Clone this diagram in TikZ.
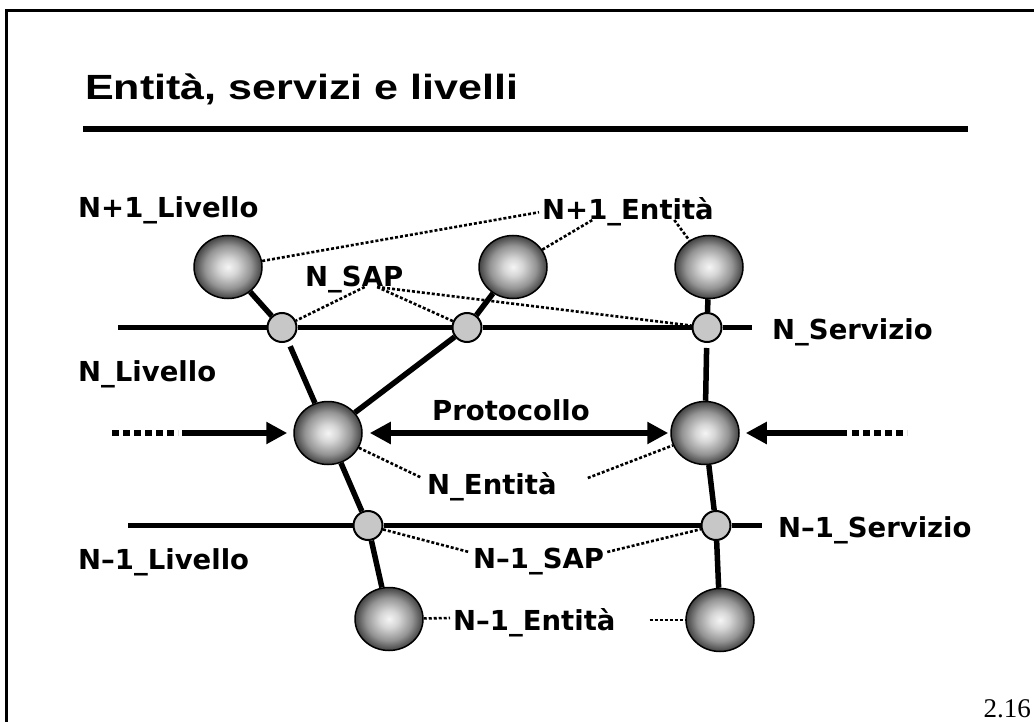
\documentclass[tikz,border=0pt]{standalone}
\usepackage{fontspec}
\setmainfont{Liberation Serif}
\newfontfamily\titlefont[FakeStretch=1.23]{Liberation Sans}
\newfontfamily\lblfont[Ligatures=TeX]{DejaVu Sans}
\usetikzlibrary{arrows.meta,shapes.geometric,calc}

% soft grey orb for the entities
\pgfdeclareradialshading{orb}{\pgfpoint{0bp}{0bp}}{%
  color(0bp)=(white!96!black); color(7bp)=(white!84!black);
  color(17bp)=(black!42); color(25bp)=(black!74); color(50bp)=(black!74)}

\begin{document}
\begin{tikzpicture}[x=1pt,y=-1pt,>={Triangle[length=21pt,width=21pt]},
    entity/.style={ellipse,draw=black,line width=1.5pt,minimum width=68pt,minimum height=63pt,
      inner sep=0pt,shading=orb},
    sap/.style={circle,draw=black,line width=2pt,fill=black!22,minimum size=29pt,inner sep=0pt},
    lbl/.style={font=\lblfont\bfseries\fontsize{27.5}{30}\selectfont,inner sep=3pt,anchor=base west},
    link/.style={line width=5.5pt},
    hint/.style={line width=2.6pt,dash pattern=on 3pt off 2pt},
    flow/.style={line width=6pt,->,shorten >=6pt},
    fade/.style={line width=6pt,dash pattern=on 7pt off 4pt}]
  \useasboundingbox (0,0) rectangle (1034,722);

  % slide frame and heading
  \draw[line width=3pt] (6.5,722) -- (6.5,10.5) -- (1034,10.5);
  \node[anchor=base west,inner sep=0pt,font=\titlefont\bfseries\fontsize{35}{40}\selectfont]
    at (85,100) (title) {Entità, servizi e livelli};
  \draw[line width=5.5pt] (83,129) -- (968,129);
  \node[anchor=base east,inner sep=0pt,font=\fontsize{27}{30}\selectfont] at (1031,717) (pg) {2.16};

  % entities
  \node[entity] at (228,267) (a1) {};
  \node[entity] at (513,267) (a2) {};
  \node[entity] at (709,267) (a3) {};
  \node[entity] at (328,433) (b1) {};
  \node[entity] at (705,433) (b2) {};
  \node[entity] at (389,619) (c1) {};
  \node[entity] at (720,620) (c2) {};

  % access points
  \node[sap] at (282,327.5) (s1) {};
  \node[sap] at (467,327.5) (s2) {};
  \node[sap] at (707,327.5) (s3) {};
  \node[sap] at (368,525.5) (t1) {};
  \node[sap] at (716,525.5) (t2) {};

  % labels
  \node[lbl] at (75,218) (liv1) {N+1\_Livello};
  \node[lbl] at (539,220) (ent1) {N+1\_Entità};
  \node[lbl] at (302,287) (nsap) {N\_SAP};
  \node[lbl] at (769,339) (serv) {N\_Servizio};
  \node[lbl] at (75,381) (liv) {N\_Livello};
  \node[lbl] at (429,420) (prot) {Protocollo};
  \node[lbl] at (424,494) (nent) {N\_Entità};
  \node[lbl] at (775,537) (serv0) {N--1\_Servizio};
  \node[lbl] at (75,569) (liv0) {N--1\_Livello};
  \node[lbl] at (470,568) (sap0) {N--1\_SAP};
  \node[lbl] at (450,630) (ent0) {N--1\_Entità};

  % service lines
  \coordinate (nl) at (118,327.5); \coordinate (nr) at (752,327.5);
  \coordinate (ml) at (128,525.5); \coordinate (mr) at (762,525.5);
  \draw[link] (nl) -- (s1) -- (s2) -- (s3) -- (nr);
  \draw[link] (ml) -- (t1) -- (t2) -- (mr);

  % vertical links
  \draw[link] (a1) -- (s1);
  \draw[link,shorten <=5pt] (s1) -- (b1);
  \draw[link] (a2) -- (s2) -- (b1);
  \draw[link] (a3) -- (s3);
  \draw[link,shorten <=5pt] (s3) -- (b2);
  \draw[link] (b1) -- (t1) -- (c1);
  \draw[link] (b2) -- (t2) -- (c2);

  % peer arrows
  \coordinate (lfar) at (112,433); \coordinate (lnear) at (178,433); \coordinate (lstart) at (182,433);
  \coordinate (rfar) at (907,433); \coordinate (rnear) at (852,433); \coordinate (rstart) at (847,433);
  \draw[fade] (lfar) -- (lnear);
  \draw[flow] (lstart) -- (b1);
  \draw[fade] (rnear) -- (rfar);
  \draw[flow] (rstart) -- (b2);
  \draw[line width=6pt,<->,shorten <=7pt,shorten >=2pt] (b1) -- (b2);

  % dotted pointers
  \draw[hint] (a1) -- (ent1.west);
  \draw[hint] (a2) -- ($(ent1.base west)!0.3!(ent1.base east)$);
  \draw[hint] ($(ent1.base west)!0.76!(ent1.base east)$) -- (a3);
  \draw[hint] ($(nsap.base west)!0.6!(nsap.base east)$) -- (s1);
  \draw[hint] ($(nsap.base west)!0.72!(nsap.base east)$) -- (s2);
  \draw[hint] ($(nsap.base west)!0.72!(nsap.base east)$) -- (s3);
  \draw[hint] (b1) -- ($(nent.base west)+(-2,-16)$);
  \draw[hint] ($(nent.base east)+(28,-16)$) -- (b2);
  \draw[hint] (t1) -- ($(sap0.base west)+(-1,-16)$);
  \draw[hint] ($(sap0.base east)+(0,-16)$) -- (t2);
  \draw[hint] (c1) -- ($(ent0.base west)+(0,-12)$);
  \draw[hint] ($(ent0.base east)+(31,-10)$) -- (c2);
\end{tikzpicture}
\end{document}
